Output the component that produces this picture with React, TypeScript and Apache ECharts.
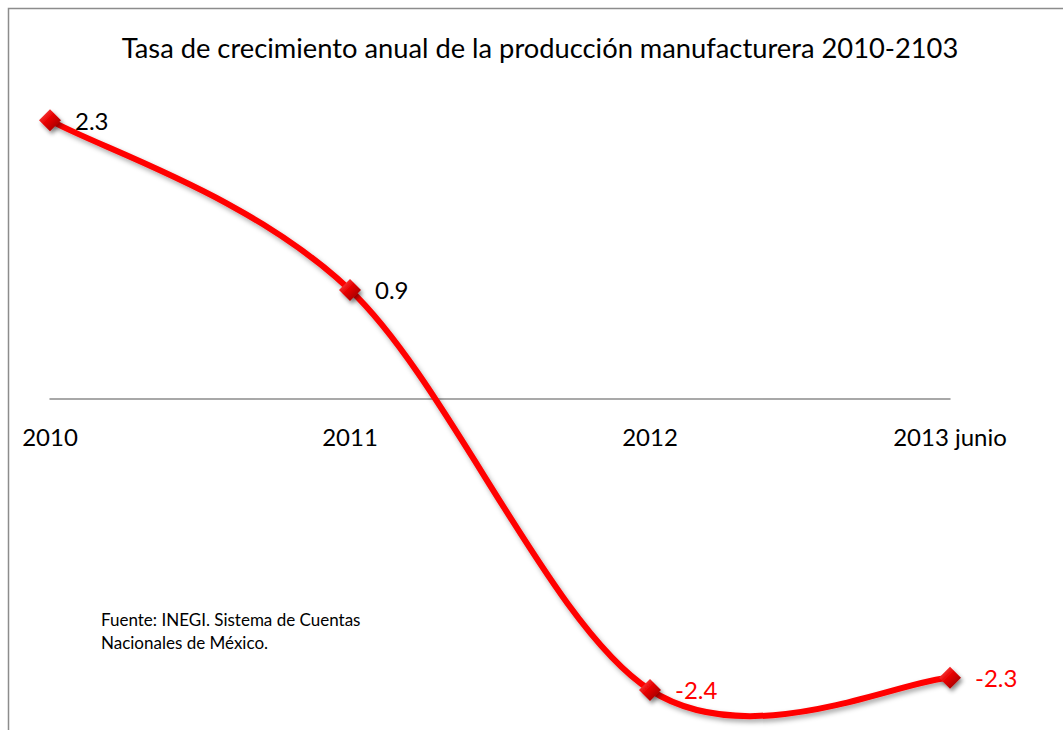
import React, { useEffect, useRef } from "react";
import * as echarts from "echarts";

const titleText = "Tasa de crecimiento anual de la producción manufacturera 2010-2103";
const categories = ["2010", "2011", "2012", "2013 junio"];
const values = [2.3, 0.9, -2.4, -2.3];
const sourceLines = ["Fuente: INEGI. Sistema de Cuentas", "Nacionales de México."];

const FONT = "Lato, 'Open Sans', sans-serif";
const Y_MIN = -2.5;
const Y_MAX = 2.5;
const GRID_TOP = 96;
const GRID_BOTTOM = 28;
const H = 730;

export default function App() {
  const ref = useRef<HTMLDivElement>(null);
  useEffect(() => {
    if (!ref.current) return;
    const chart = echarts.init(ref.current, null, { renderer: "svg" });
    const markerColor = new echarts.graphic.LinearGradient(0, 0, 1, 1, [
      { offset: 0, color: "#ff6060" },
      { offset: 0.45, color: "#e80000" },
      { offset: 1, color: "#8a0000" },
    ]);
    const gridH = H - GRID_TOP - GRID_BOTTOM;
    const zeroOffset = -(gridH * (0 - Y_MIN)) / (Y_MAX - Y_MIN);

    const renderCurve = (params: any, api: any) => {
      if (params.dataIndex !== 0) return null;
      const pts = values.map((v, i) => api.coord([i, v]));
      const n = pts.length;
      let d = `M${pts[0][0]},${pts[0][1]}`;
      for (let i = 0; i < n - 1; i++) {
        const p0 = pts[i - 1] || pts[i];
        const p1 = pts[i];
        const p2 = pts[i + 1];
        const p3 = pts[i + 2] || pts[i + 1];
        const c1x = p1[0] + (p2[0] - p0[0]) / 6;
        const c1y = p1[1] + (p2[1] - p0[1]) / 6;
        const c2x = p2[0] - (p3[0] - p1[0]) / 6;
        const c2y = p2[1] - (p3[1] - p1[1]) / 6;
        d += ` C${c1x},${c1y} ${c2x},${c2y} ${p2[0]},${p2[1]}`;
      }
      return {
        type: "path",
        shape: { pathData: d },
        style: {
          fill: "none",
          stroke: "#ff0000",
          lineWidth: 6,
          lineCap: "round",
          shadowColor: "rgba(0,0,0,0.35)",
          shadowBlur: 5,
          shadowOffsetX: 2,
          shadowOffsetY: 3,
        },
      };
    };

    chart.setOption({
      animation: false,
      backgroundColor: "#ffffff",
      title: {
        text: titleText,
        left: 535,
        textAlign: "center",
        top: 29,
        textStyle: { fontFamily: FONT, fontSize: 27.3, fontWeight: "normal", color: "#000" },
      },
      grid: {
        left: 50,
        right: 113,
        top: GRID_TOP,
        bottom: GRID_BOTTOM,
        containLabel: false,
        outerBoundsMode: "none",
      },
      xAxis: {
        type: "category",
        data: categories,
        boundaryGap: false,
        offset: zeroOffset,
        axisLine: { onZero: false, lineStyle: { color: "#8c8c8c", width: 1.5 } },
        axisTick: { show: false },
        axisLabel: { margin: 25, fontFamily: FONT, fontSize: 24, color: "#000" },
      },
      yAxis: {
        type: "value",
        min: Y_MIN,
        max: Y_MAX,
        show: false,
        splitLine: { show: false },
      },
      series: [
        {
          type: "custom",
          data: values.map((v, i) => [i, v]),
          renderItem: renderCurve,
          clip: false,
          z: 2,
          silent: true,
        },
        {
          type: "scatter",
          data: values.map((v, i) => ({
            value: [i, v],
            label: { color: v < 0 ? "#ff0000" : "#000000" },
          })),
          symbol: "diamond",
          symbolSize: 22,
          z: 3,
          itemStyle: {
            color: markerColor,
            borderWidth: 0,
            opacity: 1,
            shadowColor: "rgba(0,0,0,0.45)",
            shadowBlur: 4,
            shadowOffsetX: 2,
            shadowOffsetY: 3,
          },
          label: {
            show: true,
            position: "right",
            distance: 14,
            fontFamily: FONT,
            fontSize: 24,
            formatter: (p: any) => String(p.value[1]),
          },
        },
      ],
      graphic: [
        {
          type: "rect",
          shape: { x: 8.5, y: 8.5, width: 1200, height: 1000 },
          style: { fill: "none", stroke: "#8c8c8c", lineWidth: 1.5 },
          silent: true,
        },
        {
          type: "text",
          x: 101,
          y: 608,
          style: {
            text: sourceLines.join("\n"),
            fontFamily: FONT,
            fontSize: 17,
            lineHeight: 23,
            fill: "#000",
          },
        },
      ],
    });
    return () => chart.dispose();
  }, []);
  return (
    <div
      ref={ref}
      style={{ position: "absolute", left: 0, top: 0, width: 1063, height: 730 }}
    />
  );
}
